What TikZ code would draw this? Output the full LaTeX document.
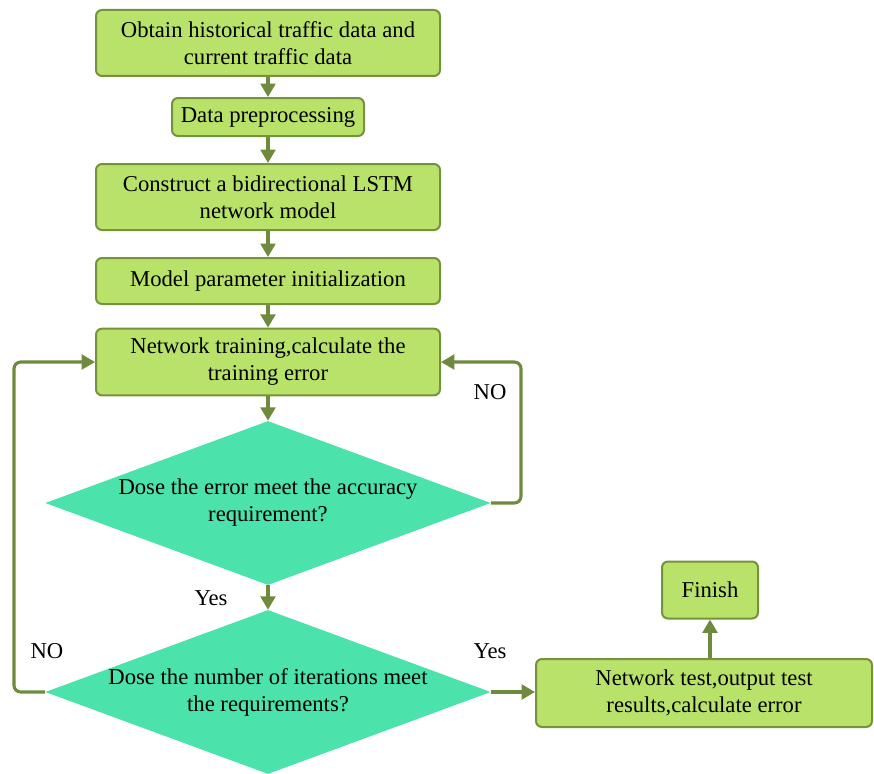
\documentclass[tikz,border=0pt]{standalone}
\usepackage{fontspec}
\setmainfont{Liberation Serif}
\usetikzlibrary{shapes.geometric,arrows.meta}
\definecolor{boxfill}{RGB}{184,226,106}
\definecolor{boxline}{RGB}{118,146,60}
\definecolor{flowline}{RGB}{110,138,61}
\definecolor{decfill}{RGB}{75,226,172}
\tikzset{
  txt/.style={font=\fontsize{17}{20.3}\selectfont},
  stepbox/.style={txt, draw=boxline, line width=1.5pt, fill=boxfill, rounded corners=4.5pt,
    align=center, inner sep=0pt},
  decision/.style={diamond, fill=decfill, draw=none, inner sep=0pt,
    minimum width=334pt, minimum height=123pt},
  dectext/.style={txt, align=center, inner sep=0pt},
  flow/.style={draw=flowline, line width=2.3pt,
    -{Triangle[width=11pt,length=10pt]}},
  loop/.style={flow, rounded corners=5pt},
  lbl/.style={txt, inner sep=0pt}
}
\begin{document}
\begin{tikzpicture}[x=0.75pt,y=-0.75pt]
  \useasboundingbox (0,0) rectangle (874,774);
  % main column
  \node[stepbox, minimum width=258pt, minimum height=49.5pt] (n1) at (268,43)
    {Obtain historical traffic data and\\current traffic data};
  \node[stepbox, minimum width=144pt, minimum height=28.5pt] (n2) at (268,117)
    {Data preprocessing};
  \node[stepbox, minimum width=258pt, minimum height=49.5pt] (n3) at (268,197)
    {Construct a bidirectional LSTM\\network model};
  \node[stepbox, minimum width=258pt, minimum height=34.5pt] (n4) at (268,281)
    {Model parameter initialization};
  \node[stepbox, minimum width=258pt, minimum height=50pt] (n5) at (268,362)
    {Network training,calculate the\\training error};
  % decisions: empty diamonds with the question set on top
  \node[decision] (d1) at (268,503) {};
  \node[dectext] (d1t) at (d1.center)
    {Dose the error meet the accuracy\\requirement?};
  \node[decision] (d2) at (268,692) {};
  \node[dectext] (d2t) at (d2.center)
    {Dose the number of iterations meet\\the requirements?};
  % right branch
  \node[stepbox, minimum width=252pt, minimum height=51pt] (n6) at (704,693)
    {Network test,output test\\results,calculate error};
  \node[stepbox, minimum width=72pt, minimum height=42.75pt] (n7) at (710,590)
    {Finish};
  % loop corners
  \coordinate (rloop) at (521,362);
  \coordinate (lloop) at (14,362);
  % connectors
  \draw[flow] (n1) -- (n2);
  \draw[flow] (n2) -- (n3);
  \draw[flow] (n3) -- (n4);
  \draw[flow] (n4) -- (n5);
  \draw[flow] (n5) -- (d1);
  \draw[flow] (d1) -- (d2);
  \draw[loop] (d1.east) -| (rloop) -- (n5.east);
  \draw[loop] (d2.west) -| (lloop) -- (n5.west);
  \draw[flow] (d2.east) -- (n6.west |- d2.east);
  \draw[flow] (n6.north -| n7) -- (n7.south);
  % labels
  \node[lbl] (lno1) at (490,392) {NO};
  \node[lbl] (lno2) at (47,651) {NO};
  \node[lbl] (lyes1) at (211,598) {Yes};
  \node[lbl] (lyes2) at (490,651) {Yes};
\end{tikzpicture}
\end{document}
